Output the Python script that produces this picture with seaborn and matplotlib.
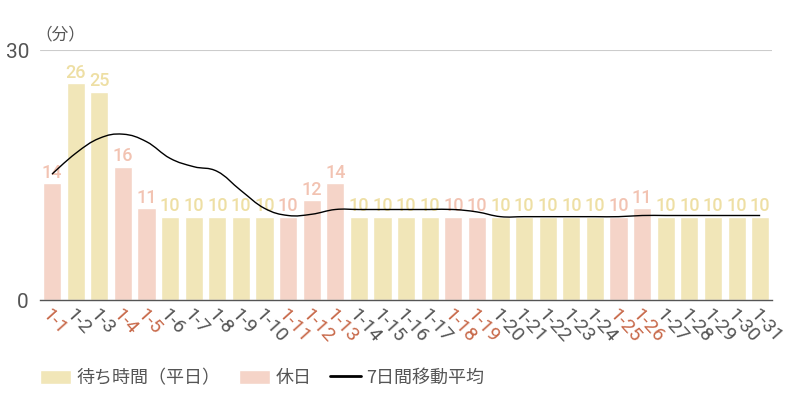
import seaborn as sns
import matplotlib.pyplot as plt
import pandas as pd
from matplotlib.path import Path
from matplotlib.patches import PathPatch, Patch
from matplotlib.lines import Line2D

# データ（1月の待ち時間・分）
days = ["1-%d" % d for d in range(1, 32)]
wait = [14, 26, 25, 16, 11, 10, 10, 10, 10, 10, 10, 12, 14, 10, 10, 10,
        10, 10, 10, 10, 10, 10, 10, 10, 10, 11, 10, 10, 10, 10, 10]
holidays = ["1-1", "1-4", "1-5", "1-11", "1-12", "1-13",
            "1-18", "1-19", "1-25", "1-26"]
avg7 = [15.1, 17.6, 19.4, 19.9, 19.0, 17.0, 16.0, 15.43, 13.14, 11.0,
        10.14, 10.29, 10.86, 10.86, 10.86, 10.86, 10.86, 10.86, 10.57, 10.0,
        10.0, 10.0, 10.0, 10.0, 10.0, 10.14, 10.14, 10.14, 10.14, 10.14, 10.14]

WEEKDAY = "待ち時間（平日）"
HOLIDAY = "休日"
AVG = "7日間移動平均"

c_week = "#f1e6b8"
c_hol = "#f5d4c8"
c_week_txt = "#eedfa4"
c_hol_txt = "#f2c3b2"
c_red = "#c8694a"
c_gray = "#555555"

df = pd.DataFrame({"day": days, "wait": wait})
df["kind"] = [HOLIDAY if d in holidays else WEEKDAY for d in days]

sns.set_style("white")
plt.rcParams["font.family"] = ["Noto Sans CJK JP", "DejaVu Sans"]
num_font = ["Roboto", "DejaVu Sans"]

fig = plt.figure(figsize=(8, 4), dpi=100)
ax = fig.add_axes([0.05, 0.25, 0.915, 0.625])

sns.barplot(data=df, x="day", y="wait", hue="kind", hue_order=[WEEKDAY, HOLIDAY],
            palette={WEEKDAY: c_week, HOLIDAY: c_hol}, dodge=False, width=0.77,
            saturation=1, legend=False, ax=ax)

# 値ラベル（休日はピンク、平日は黄色）
for cont in ax.containers:
    texts = ax.bar_label(cont, fmt="%d", padding=1, fontsize=13,
                         fontweight="medium", family=num_font)
    for bar, t in zip(cont, texts):
        i = int(round(bar.get_x() + bar.get_width() / 2))
        t.set_color(c_hol_txt if days[i] in holidays else c_week_txt)

# 7日間移動平均（スプライン風）
xs = list(range(len(avg7)))
sm, den = 1.5, 2.5
ctrl = []
for i in range(len(xs)):
    if i == 0 or i == len(xs) - 1:
        ctrl.append(((xs[i], avg7[i]), (xs[i], avg7[i])))
        continue
    lx = (sm * xs[i] + xs[i - 1]) / den
    ly = (sm * avg7[i] + avg7[i - 1]) / den
    rx = (sm * xs[i] + xs[i + 1]) / den
    ry = (sm * avg7[i] + avg7[i + 1]) / den
    corr = (ry - ly) * (rx - xs[i]) / (rx - lx) + avg7[i] - ry
    ctrl.append(((lx, ly + corr), (rx, ry + corr)))
verts = [(xs[0], avg7[0])]
codes = [Path.MOVETO]
for i in range(1, len(xs)):
    verts += [ctrl[i - 1][1], ctrl[i][0], (xs[i], avg7[i])]
    codes += [Path.CURVE4] * 3
ax.add_patch(PathPatch(Path(verts, codes), facecolor="none", edgecolor="black", lw=1, zorder=5))

ax.set_xlim(-0.51, 30.5)
ax.set_ylim(0, 30)
ax.set_yticks([0, 30])
ax.set_xlabel("")
ax.set_ylabel("")
ax.axhline(30, color="#cccccc", lw=0.8, zorder=0)
for s in ["top", "right", "left"]:
    ax.spines[s].set_visible(False)
ax.spines["bottom"].set_color(c_gray)
ax.spines["bottom"].set_linewidth(1)
ax.tick_params(axis="y", length=0, labelsize=15, labelcolor=c_gray, pad=8)
ax.tick_params(axis="x", length=0, pad=4)
for t in ax.get_yticklabels():
    t.set_family(num_font)

for t, d in zip(ax.get_xticklabels(), days):
    t.set_rotation(-48)
    t.set_rotation_mode("anchor")
    t.set_ha("left")
    t.set_va("top")
    t.set_fontsize(14)
    t.set_family(num_font)
    t.set_color(c_red if d in holidays else c_gray)

fig.text(0.044, 0.912, "（分）", fontsize=12, color=c_gray, ha="left", va="center")

handles = [Patch(facecolor=c_week, label=WEEKDAY),
           Patch(facecolor=c_hol, label=HOLIDAY),
           Line2D([0], [0], color="black", lw=2, label=AVG)]
fig.legend(handles=handles, loc="center left", bbox_to_anchor=(0.05, 0.055), ncol=3,
           frameon=False, fontsize=13, labelcolor=c_gray, handlelength=1.7,
           handleheight=0.85, handletextpad=0.3, columnspacing=1.05,
           borderpad=0, borderaxespad=0)

fig.savefig("out.png", dpi=100)
